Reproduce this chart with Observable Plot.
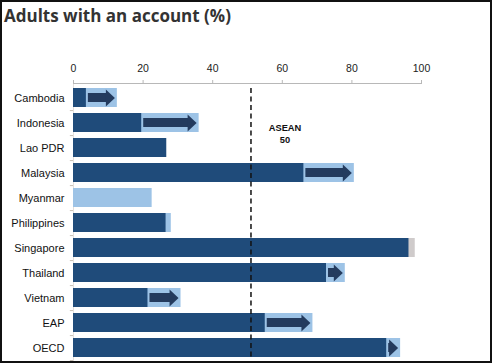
<!DOCTYPE html>
<html>
<head>
<meta charset="utf-8">
<script src="https://cdn.jsdelivr.net/npm/d3@7"></script>
<script src="https://cdn.jsdelivr.net/npm/@observablehq/plot@0.6"></script>
<style>
  html, body { margin: 0; padding: 0; background: #fff; }
  #wrap { position: relative; width: 492px; height: 364px; overflow: hidden; }
  #title { position: absolute; left: 4px; top: 1px; height: 30px; font-family: "Open Sans", sans-serif; font-weight: 700; font-size: 17px; color: #333; line-height: 30px; white-space: nowrap; }
  #chart { position: absolute; left: 0; top: 32px; }
  #border { position: absolute; left: 0; top: 0; width: 492px; height: 363px; box-sizing: border-box; border: 2px solid #111; pointer-events: none; }
</style>
</head>
<body>
<div id="wrap">
  <div id="title">Adults with an account (%)</div>
  <div id="chart"></div>
  <div id="border"></div>
</div>
<script>
const countries = ["Cambodia", "Indonesia", "Lao PDR", "Malaysia", "Myanmar", "Philippines", "Singapore", "Thailand", "Vietnam", "EAP", "OECD"];
const account2011 = [3.7, 19.6, 26.8, 66.2, null, 26.6, 98.2, 72.7, 21.4, 55.1, 90.0];
const account2014 = [12.6, 36.1, null, 80.7, 22.6, 28.1, 96.4, 78.1, 30.9, 68.8, 94.0];
const xTicks = [0, 20, 40, 60, 80, 100];
const aseanValue = 51;
const aseanLabel = "ASEAN\n50";

const dark = "#1f4b7a";
const light = "#9dc3e6";
const grey = "#cfcbcb";
const arrowColor = "#243b5e";

const rows = countries.map((c, i) => ({country: c, a: account2011[i], b: account2014[i]}));
const back = rows.filter(d => d.b != null).map(d => ({
  country: d.country,
  x: d.a != null ? Math.max(d.a, d.b) : d.b,
  fill: d.a != null && d.b < d.a ? grey : light
}));
const front = rows.filter(d => d.a != null).map(d => ({
  country: d.country,
  x: d.b != null ? Math.min(d.a, d.b) : d.a
}));
const arrows = rows.filter(d => d.a != null && d.b != null && d.b - d.a > 3);

const headSymbol = {
  draw(ctx) {
    ctx.moveTo(-2.5, 0);
    ctx.lineTo(-11.5, -8.5);
    ctx.lineTo(-11.5, 8.5);
    ctx.closePath();
  }
};

const chart = Plot.plot({
  width: 492,
  height: 332,
  marginLeft: 73,
  marginRight: 71,
  marginTop: 51,
  marginBottom: 2.5,
  style: {fontFamily: "'Liberation Sans', Arial, sans-serif", background: "transparent"},
  x: {domain: [0, 100], axis: null},
  y: {domain: countries, paddingInner: 0.25, paddingOuter: 0.14, axis: null},
  marks: [
    Plot.frame({anchor: "top", stroke: "#b8b8b8"}),
    Plot.frame({anchor: "left", stroke: "#e4e0dc"}),
    Plot.ruleY(countries, {y: d => d, x1: -0.9, x2: 0, dy: 12.6, stroke: "#c8bfb4"}),
    Plot.axisX({anchor: "top", ticks: xTicks, tickSize: 4, tickPadding: 8, stroke: "#b8b8b8", fill: "#222", fontSize: 10.5, tickFormat: d => String(d)}),
    Plot.axisY({anchor: "left", tickSize: 0, tickPadding: 9, fill: "#111", fontSize: 11, label: null}),
    Plot.barX(back, {x: "x", y: "country", fill: "fill"}),
    Plot.barX(front, {x: "x", y: "country", fill: dark}),
    Plot.barX(arrows, {x1: "a", x2: "b", y: "country", fill: arrowColor, insetLeft: 2, insetRight: 10, insetTop: 5, insetBottom: 5}),
    Plot.dot(arrows, {x: "b", y: "country", symbol: headSymbol, r: 5, fill: arrowColor, stroke: null}),
    Plot.ruleX([aseanValue], {stroke: "#111", strokeWidth: 1.5, strokeDasharray: "5,3.5", insetTop: 5, insetBottom: 5}),
    Plot.text([aseanLabel], {x: aseanValue, y: () => "Lao PDR", text: d => d, dx: 34, dy: -14.5, fontWeight: "bold", fontSize: 9.3, fill: "#111", lineHeight: 1.3})
  ]
});
document.getElementById("chart").appendChild(chart);
</script>
</body>
</html>
